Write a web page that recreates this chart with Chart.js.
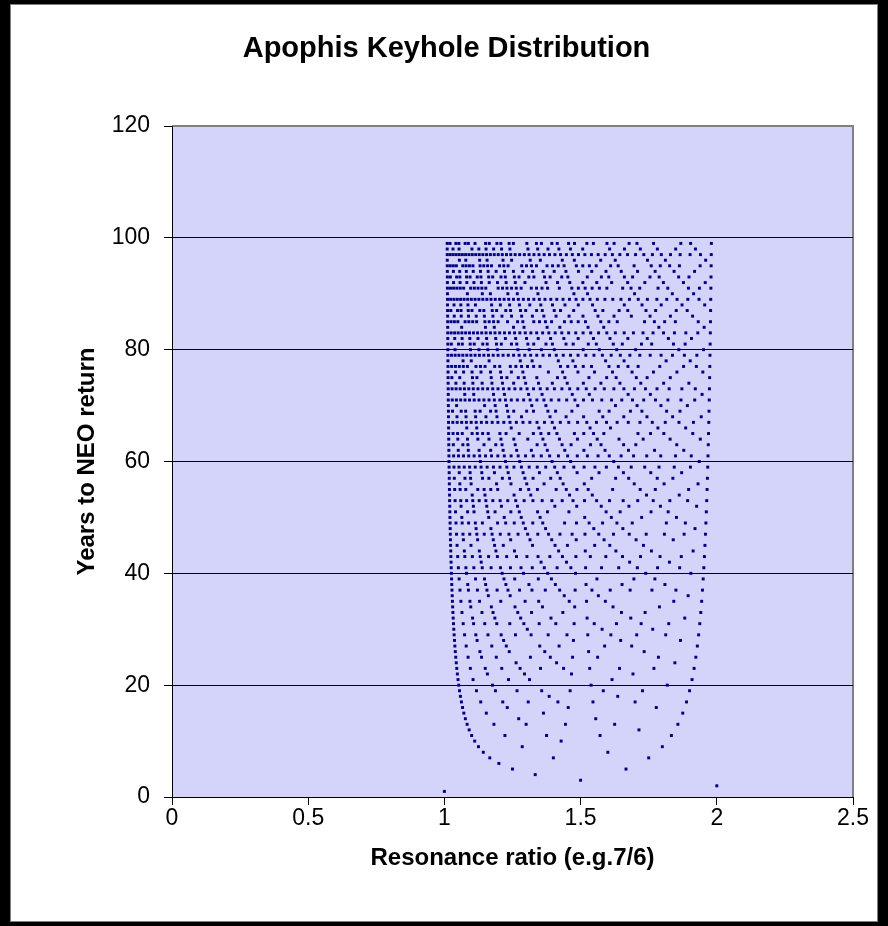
<!DOCTYPE html>
<html>
<head>
<meta charset="utf-8">
<script src="https://cdn.jsdelivr.net/npm/chart.js@4.4.1/dist/chart.umd.min.js"></script>
<style>
  html, body { margin: 0; padding: 0; background: #000; }
  #wrap { width: 888px; height: 926px; }
</style>
</head>
<body>
<div id="wrap"><canvas id="c" width="888" height="926"></canvas></div>
<script>
// Years to NEO return (row values) and, for each year, the resonance denominators q
// (points are plotted at resonance ratio = year / q).
const years = [1,2,3,4,5,6,7,8,9,10,11,12,13,14,15,16,17,18,19,20,21,22,23,24,25,26,27,28,29,30,31,32,33,34,35,36,37,38,39,40,41,42,43,44,45,46,47,48,49,50,51,52,53,54,55,56,57,58,59,60,61,62,63,64,65,66,67,68,69,70,71,72,73,74,75,76,77,78,79,80,81,82,83,84,85,86,87,88,89,90,91,92,93,94,95,96,97,98,99];
const denominators = [
  [1],
  [1],
  [2],
  [3],
  [3,4],
  [5],
  [4,5,6],
  [5,7],
  [5,7,8],
  [7,9],
  [6,7,8,9,10],
  [7,11],
  [7,8,9,10,11,12],
  [9,11,13],
  [8,11,13,14],
  [9,11,13,15],
  [9,10,11,12,13,14,15,16],
  [11,13,17],
  [10,11,12,13,14,15,16,17,18],
  [11,13,17,19],
  [11,13,16,17,19,20],
  [13,15,17,19,21],
  [12,13,14,15,16,17,18,19,20,21,22],
  [13,17,19,23],
  [13,14,16,17,18,19,21,22,23,24],
  [15,17,19,21,23,25],
  [14,16,17,19,20,22,23,25,26],
  [15,17,19,23,25,27],
  [15,16,17,18,19,20,21,22,23,24,25,26,27,28],
  [17,19,23,29],
  [16,17,18,19,20,21,22,23,24,25,26,27,28,29,30],
  [17,19,21,23,25,27,29,31],
  [17,19,20,23,25,26,28,29,31,32],
  [19,21,23,25,27,29,31,33],
  [18,19,22,23,24,26,27,29,31,32,33,34],
  [19,23,25,29,31,35],
  [19,20,21,22,23,24,25,26,27,28,29,30,31,32,33,34,35,36],
  [21,23,25,27,29,31,33,35,37],
  [20,22,23,25,28,29,31,32,34,35,37,38],
  [21,23,27,29,31,33,37,39],
  [21,22,23,24,25,26,27,28,29,30,31,32,33,34,35,36,37,38,39,40],
  [23,25,29,31,37,41],
  [22,23,24,25,26,27,28,29,30,31,32,33,34,35,36,37,38,39,40,41,42],
  [23,25,27,29,31,35,37,39,41,43],
  [23,26,28,29,31,32,34,37,38,41,43,44],
  [25,27,29,31,33,35,37,39,41,43,45],
  [24,25,26,27,28,29,30,31,32,33,34,35,36,37,38,39,40,41,42,43,44,45,46],
  [25,29,31,35,37,41,43,47],
  [25,26,27,29,30,31,32,33,34,36,37,38,39,40,41,43,44,45,46,47,48],
  [27,29,31,33,37,39,41,43,47,49],
  [26,28,29,31,32,35,37,38,40,41,43,44,46,47,49,50],
  [27,29,31,33,35,37,41,43,45,47,49,51],
  [27,28,29,30,31,32,33,34,35,36,37,38,39,40,41,42,43,44,45,46,47,48,49,50,51,52],
  [29,31,35,37,41,43,47,49,53],
  [28,29,31,32,34,36,37,38,39,41,42,43,46,47,48,49,51,52,53,54],
  [29,31,33,37,39,41,43,45,47,51,53,55],
  [29,31,32,34,35,37,40,41,43,44,46,47,49,50,52,53,55,56],
  [31,33,35,37,39,41,43,45,47,49,51,53,55,57],
  [30,31,32,33,34,35,36,37,38,39,40,41,42,43,44,45,46,47,48,49,50,51,52,53,54,55,56,57,58],
  [31,37,41,43,47,49,53,59],
  [31,32,33,34,35,36,37,38,39,40,41,42,43,44,45,46,47,48,49,50,51,52,53,54,55,56,57,58,59,60],
  [33,35,37,39,41,43,45,47,49,51,53,55,57,59,61],
  [32,34,37,38,40,41,43,44,46,47,50,52,53,55,58,59,61,62],
  [33,35,37,39,41,43,45,47,49,51,53,55,57,59,61,63],
  [33,34,36,37,38,41,42,43,44,46,47,48,49,51,53,54,56,57,58,59,61,62,63,64],
  [35,37,41,43,47,49,53,59,61,65],
  [34,35,36,37,38,39,40,41,42,43,44,45,46,47,48,49,50,51,52,53,54,55,56,57,58,59,60,61,62,63,64,65,66],
  [35,37,39,41,43,45,47,49,53,55,57,59,61,63,65,67],
  [35,37,38,40,41,43,44,47,49,50,52,53,55,56,58,59,61,62,64,65,67,68],
  [37,39,41,43,47,51,53,57,59,61,67,69],
  [36,37,38,39,40,41,42,43,44,45,46,47,48,49,50,51,52,53,54,55,56,57,58,59,60,61,62,63,64,65,66,67,68,69,70],
  [37,41,43,47,49,53,55,59,61,65,67,71],
  [37,38,39,40,41,42,43,44,45,46,47,48,49,50,51,52,53,54,55,56,57,58,59,60,61,62,63,64,65,66,67,68,69,70,71,72],
  [39,41,43,45,47,49,51,53,55,57,59,61,63,65,67,69,71,73],
  [38,41,43,44,46,47,49,52,53,56,58,59,61,62,64,67,68,71,73,74],
  [39,41,43,45,47,49,51,53,55,59,61,63,65,67,69,71,73,75],
  [39,40,41,43,45,46,47,48,50,51,52,53,54,57,58,59,60,61,62,64,65,67,68,69,71,72,73,74,75,76],
  [41,43,47,49,53,55,59,61,67,71,73,77],
  [40,41,42,43,44,45,46,47,48,49,50,51,52,53,54,55,56,57,58,59,60,61,62,63,64,65,66,67,68,69,70,71,72,73,74,75,76,77,78],
  [41,43,47,49,51,53,57,59,61,63,67,69,71,73,77,79],
  [41,43,44,46,47,49,50,52,53,55,56,58,59,61,62,64,65,67,68,70,71,73,74,76,77,79,80],
  [43,45,47,49,51,53,55,57,59,61,63,65,67,69,71,73,75,77,79,81],
  [42,43,44,45,46,47,48,49,50,51,52,53,54,55,56,57,58,59,60,61,62,63,64,65,66,67,68,69,70,71,72,73,74,75,76,77,78,79,80,81,82],
  [43,47,53,55,59,61,65,67,71,73,79,83],
  [43,44,46,47,48,49,52,53,54,56,57,58,59,61,62,63,64,66,67,69,71,72,73,74,76,77,78,79,81,82,83,84],
  [45,47,49,51,53,55,57,59,61,63,65,67,69,71,73,75,77,79,81,83,85],
  [44,46,47,49,50,52,53,55,56,59,61,62,64,65,67,68,70,71,73,74,76,77,79,80,82,83,85,86],
  [45,47,49,51,53,57,59,61,63,65,67,69,71,73,75,79,81,83,85,87],
  [45,46,47,48,49,50,51,52,53,54,55,56,57,58,59,60,61,62,63,64,65,66,67,68,69,70,71,72,73,74,75,76,77,78,79,80,81,82,83,84,85,86,87,88],
  [47,49,53,59,61,67,71,73,77,79,83,89],
  [46,47,48,50,51,53,54,55,57,58,59,60,61,62,64,66,67,68,69,71,72,73,74,75,76,79,80,81,82,83,85,86,87,88,89,90],
  [47,49,51,53,55,57,59,61,63,65,67,71,73,75,77,79,81,83,85,87,89,91],
  [47,49,50,52,53,55,56,58,59,61,64,65,67,68,70,71,73,74,76,77,79,80,82,83,85,86,88,89,91,92],
  [49,51,53,55,57,59,61,63,65,67,69,71,73,75,77,79,81,83,85,87,89,91,93],
  [48,49,51,52,53,54,56,58,59,61,62,63,64,66,67,68,69,71,72,73,74,77,78,79,81,82,83,84,86,87,88,89,91,92,93,94],
  [49,53,55,59,61,65,67,71,73,77,79,83,85,89,91,95],
  [49,50,51,52,53,54,55,56,57,58,59,60,61,62,63,64,65,66,67,68,69,70,71,72,73,74,75,76,77,78,79,80,81,82,83,84,85,86,87,88,89,90,91,92,93,94,95,96],
  [51,53,55,57,59,61,65,67,69,71,73,75,79,81,83,85,87,89,93,95,97],
  [50,52,53,56,58,59,61,62,64,65,67,68,70,71,73,74,76,79,80,82,83,85,86,89,91,92,94,95,97,98]
];
const xTicks = [0, 0.5, 1, 1.5, 2, 2.5];
const yTicks = [0, 20, 40, 60, 80, 100, 120];

const points = [];
years.forEach((yr, i) => {
  denominators[i].forEach(q => points.push({ x: yr / q, y: yr }));
});

const FONT = '"Liberation Sans", Arial, Helvetica, sans-serif';
const PLOT_BG = '#D4D4FA';

const framePlugin = {
  id: 'frame',
  beforeDraw(chart) {
    const ctx = chart.ctx;
    const a = chart.chartArea;
    ctx.save();
    ctx.fillStyle = '#000';
    ctx.fillRect(0, 0, 888, 926);
    ctx.fillStyle = '#fff';
    ctx.fillRect(10, 4, 868, 918);
    ctx.strokeStyle = '#808080';
    ctx.lineWidth = 1;
    ctx.strokeRect(10.5, 4.5, 867, 917);
    ctx.fillStyle = PLOT_BG;
    ctx.fillRect(a.left, a.top, a.right - a.left, a.bottom - a.top);
    ctx.strokeStyle = '#808080';
    ctx.lineWidth = 2;
    ctx.beginPath();
    ctx.moveTo(a.left, a.top);
    ctx.lineTo(a.right, a.top);
    ctx.lineTo(a.right, a.bottom);
    ctx.stroke();
    ctx.restore();
  }
};

new Chart(document.getElementById('c'), {
  type: 'scatter',
  data: {
    datasets: [{
      label: 'Keyholes',
      data: points,
      pointStyle: 'rect',
      pointRadius: 2.1,
      pointHoverRadius: 2.1,
      pointBorderWidth: 0,
      backgroundColor: '#000080',
      borderColor: '#000080'
    }]
  },
  options: {
    responsive: false,
    animation: false,
    devicePixelRatio: 1,
    layout: { padding: { left: 40, right: 35, top: 0, bottom: 20 } },
    plugins: {
      legend: { display: false },
      tooltip: { enabled: false },
      title: {
        display: true,
        text: 'Apophis Keyhole Distribution',
        color: '#000',
        font: { family: FONT, size: 29, weight: 'bold', lineHeight: 1.2 },
        padding: { top: 31.1, bottom: 60.1 }
      }
    },
    scales: {
      x: {
        type: 'linear',
        min: 0, max: 2.5,
        afterBuildTicks(s) { s.ticks = xTicks.map(v => ({ value: v })); },
        afterFit(s) { s.height = 926 - 20 - 797; },
        ticks: {
          color: '#000',
          font: { family: FONT, size: 23 },
          padding: 0,
          maxRotation: 0,
          callback: v => String(v)
        },
        grid: { drawOnChartArea: false, drawTicks: true, tickLength: 8, color: '#000', lineWidth: 1 },
        border: { display: true, color: '#000', width: 1 },
        title: {
          display: true,
          text: 'Resonance ratio (e.g.7/6)',
          color: '#000',
          font: { family: FONT, size: 24, weight: 'bold', lineHeight: 1.2 },
          padding: { top: 0, bottom: 33.6 }
        }
      },
      y: {
        type: 'linear',
        min: 0, max: 120,
        afterBuildTicks(s) { s.ticks = yTicks.map(v => ({ value: v })); },
        afterFit(s) { s.width = 172 - 40; },
        ticks: {
          color: '#000',
          font: { family: FONT, size: 23 },
          padding: 14,
          callback: v => String(v)
        },
        grid: {
          drawTicks: true,
          tickLength: 8,
          color: c => (c.tick && c.tick.value === 120 ? '#808080' : '#000'),
          tickColor: '#000',
          lineWidth: 1
        },
        border: { display: true, color: '#000', width: 1 },
        title: {
          display: true,
          text: 'Years to NEO return',
          color: '#000',
          font: { family: FONT, size: 24, weight: 'bold', lineHeight: 1.2 },
          padding: { top: 33.1, bottom: 0 }
        }
      }
    }
  },
  plugins: [framePlugin]
});
</script>
</body>
</html>
